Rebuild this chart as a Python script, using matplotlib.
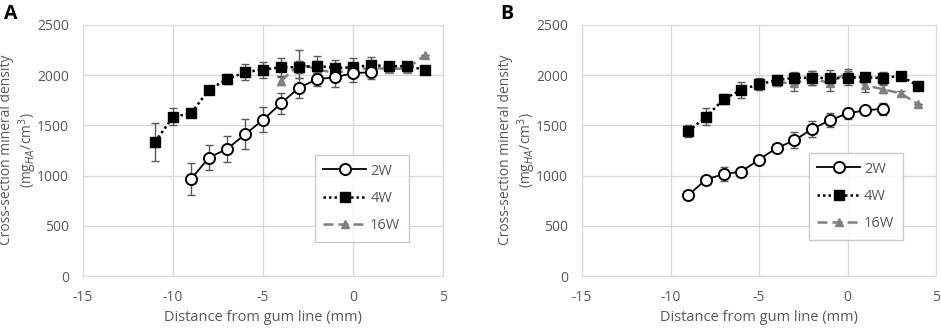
import matplotlib
matplotlib.use("Agg")
import matplotlib.pyplot as plt
import numpy as np

plt.rcParams['font.family'] = ['Open Sans', 'DejaVu Sans']
plt.rcParams['axes.unicode_minus'] = False

# Panel A
a_2w_x = [-9, -8, -7, -6, -5, -4, -3, -2, -1, 0, 1]
a_2w_y = [965, 1180, 1265, 1410, 1555, 1720, 1875, 1960, 1980, 2020, 2030]
a_2w_e = [160, 125, 130, 150, 125, 105, 100, 70, 100, 90, 70]
a_4w_x = [-11, -10, -9, -8, -7, -6, -5, -4, -3, -2, -1, 0, 1, 2, 3, 4]
a_4w_y = [1335, 1585, 1620, 1855, 1960, 2030, 2055, 2080, 2080, 2095, 2070, 2080, 2100, 2090, 2090, 2055]
a_4w_e = [190, 85, 35, 30, 50, 80, 80, 90, 60, 100, 80, 90, 80, 20, 20, 0]
a_16w_x = [-4, -3, -2, -1, 0, 1, 2, 3, 4]
a_16w_y = [1940, 2110, 2060, 2020, 2060, 2070, 2065, 2065, 2200]
a_16w_e = [40, 140, 80, 60, 60, 40, 20, 20, 0]

# Panel B
b_2w_x = [-9, -8, -7, -6, -5, -4, -3, -2, -1, 0, 1, 2]
b_2w_y = [805, 960, 1015, 1040, 1160, 1275, 1350, 1465, 1550, 1620, 1650, 1665]
b_2w_e = [20, 25, 70, 25, 25, 25, 80, 80, 70, 55, 25, 60]
b_4w_x = [-9, -8, -7, -6, -5, -4, -3, -2, -1, 0, 1, 2, 3, 4]
b_4w_y = [1440, 1585, 1760, 1855, 1910, 1950, 1975, 1975, 1970, 1975, 1980, 1970, 1995, 1890]
b_4w_e = [60, 85, 50, 80, 60, 50, 60, 70, 80, 70, 40, 60, 0, 0]
b_16w_x = [-4, -3, -2, -1, 0, 1, 2, 3, 4]
b_16w_y = [1930, 1920, 1970, 1920, 2030, 1900, 1860, 1820, 1710]
b_16w_e = [40, 80, 70, 80, 30, 70, 40, 20, 0]

series_labels = ['2W', '4W', '16W']
x_ticks = [-15, -10, -5, 0, 5]
y_ticks = [0, 500, 1000, 1500, 2000, 2500]
y_title = 'Cross-section mineral density\n(mg$_{HA}$/cm$^3$)'

TXT = '#595959'
GRID = '#d9d9d9'
ERR = '#595959'

fig = plt.figure(figsize=(9.41, 3.28), dpi=100)
W, H = 941, 328
axA = fig.add_axes([83 / W, 1 - 276 / H, (443 - 83) / W, (276 - 25) / H])
axB = fig.add_axes([582 / W, 1 - 276 / H, (936 - 582) / W, (276 - 25) / H])

panels = [
    (axA, (a_2w_x, a_2w_y, a_2w_e), (a_4w_x, a_4w_y, a_4w_e), (a_16w_x, a_16w_y, a_16w_e),
     (0.906, 0.135), 19),
    (axB, (b_2w_x, b_2w_y, b_2w_e), (b_4w_x, b_4w_y, b_4w_e), (b_16w_x, b_16w_y, b_16w_e),
     (0.907, 0.143), 518),
]

for ax, s2, s4, s16, legpos, ylx in panels:
    ax.set_xlim(-15, 5)
    ax.set_ylim(0, 2500)
    ax.set_xticks(x_ticks)
    ax.set_yticks(y_ticks)
    ax.grid(True, color=GRID, linewidth=1)
    ax.set_axisbelow(True)
    for sp in ax.spines.values():
        sp.set_color(GRID)
    ax.tick_params(length=0, colors=TXT, labelsize=10)
    ax.tick_params(axis='y', pad=10)
    ax.tick_params(axis='x', pad=10)

    ekw = dict(ecolor=ERR, elinewidth=1, capsize=3, capthick=1, zorder=2)
    # 16W
    ax.errorbar(s16[0], s16[1], yerr=s16[2], fmt='none', **ekw)
    ax.plot(s16[0], s16[1], linestyle=(0, (4, 2)), color='#808080', lw=1.8,
            marker='^', ms=6, mfc='#808080', mec='#808080', label=series_labels[2], zorder=3)
    # 4W
    ax.errorbar(s4[0], s4[1], yerr=s4[2], fmt='none', **ekw)
    ax.plot(s4[0], s4[1], linestyle=(0, (1, 1.2)), color='black', lw=1.8,
            marker='s', ms=6.5, mfc='black', mec='black', label=series_labels[1], zorder=4)
    # 2W
    ax.errorbar(s2[0], s2[1], yerr=s2[2], fmt='none', **ekw)
    ax.plot(s2[0], s2[1], linestyle='-', color='black', lw=1.3,
            marker='o', ms=8, mfc='white', mec='black', mew=1.4, label=series_labels[0], zorder=5)

    ax.set_xlabel('Distance from gum line (mm)', color=TXT, fontsize=10.5, labelpad=4)
    fig.text(ylx / W, 1 - 150 / H, y_title, color=TXT, fontsize=10, linespacing=1.2,
             rotation=90, ha='center', va='center', multialignment='center')

    handles, labels = ax.get_legend_handles_labels()
    order = [2, 1, 0]
    leg = ax.legend([handles[i] for i in order], [labels[i] for i in order],
                    loc='lower right', bbox_to_anchor=legpos, frameon=True,
                    fancybox=False, edgecolor='#bfbfbf', fontsize=10.5, labelcolor=TXT,
                    handlelength=2.9, handletextpad=0.3, labelspacing=0.85, borderpad=0.6,
                    borderaxespad=0)
    leg.get_frame().set_linewidth(1)

fig.text(4 / W, 1 - 14 / H, 'A', fontsize=14, fontweight='bold', va='center', ha='left')
fig.text(500 / W, 1 - 14 / H, 'B', fontsize=14, fontweight='bold', va='center', ha='left')

fig.savefig('out.png', dpi=100)
